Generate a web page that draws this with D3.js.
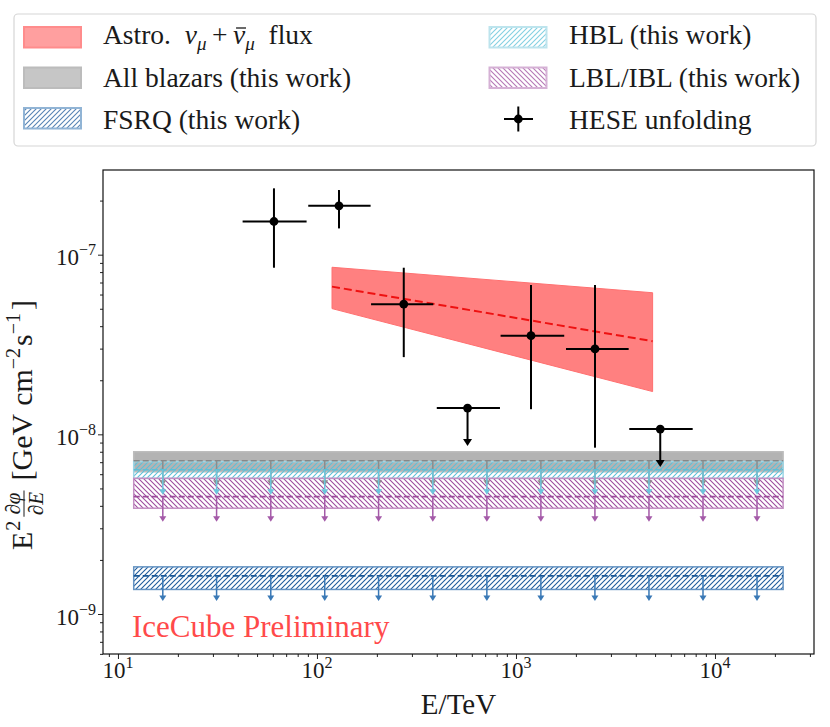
<!DOCTYPE html>
<html>
<head>
<meta charset="utf-8">
<script src="https://cdn.jsdelivr.net/npm/d3@7"></script>
<style>
  body { margin: 0; background: #fff; }
  text { font-family: "Liberation Serif", "DejaVu Serif", serif; fill: #1a1a1a; }
</style>
</head>
<body>
<svg id="chart"></svg>
<script>
// ---- data ----
var xTickValues = [10, 100, 1000, 10000];
var xTickExp = ["1", "2", "3", "4"];
var yTickValues = [1e-9, 1e-8, 1e-7];
var yTickExp = ["\u22129", "\u22128", "\u22127"];

// HESE unfolding points (E in TeV, flux in GeV cm^-2 s^-1)
var heseE      = [60.8, 129, 273, 571, 1190, 2495, 5309];
var heseELow   = [42.3, 90.4, 187, 400, 837, 1784, 3710];
var heseEHigh  = [88.7, 186, 384, 831, 1748, 3684, 7727];
var heseFlux   = [1.53e-7, 1.87e-7, 5.30e-8, 1.40e-8, 3.54e-8, 2.99e-8, 1.07e-8];
var heseFluxLo = [8.46e-8, 1.40e-7, 2.69e-8, null, 1.38e-8, 8.43e-9, null];
var heseFluxHi = [2.34e-7, 2.29e-7, 8.46e-8, null, 6.78e-8, 6.78e-8, null];
var heseUpper  = [false, false, false, true, false, false, true];

// astrophysical numu flux band
var astroE    = [119, 4860];
var astroBest = [6.64e-8, 3.30e-8];
var astroUp   = [8.51e-8, 6.14e-8];
var astroLow  = [5.01e-8, 1.73e-8];

// blazar upper-limit bands
var bandE      = [12.0, 22000];
var bandNames  = ["All blazars (this work)", "HBL (this work)", "LBL/IBL (this work)", "FSRQ (this work)"];
var bandLow    = [6.19e-9, 5.69e-9, 3.88e-9, 1.37e-9];
var bandHigh   = [8.00e-9, 7.05e-9, 5.69e-9, 1.83e-9];
var bandCenter = [7.13e-9, 6.35e-9, 4.50e-9, 1.63e-9];
var limitE     = [16.8, 31.3, 58.6, 109.4, 204, 382, 714, 1334, 2493, 4659, 8706, 16265];

var screen = {width: 830, height: 727};
var plot = {left: 103, right: 814, top: 170, bottom: 654};

var svg = d3.select("#chart")
    .attr("width", screen.width)
    .attr("height", screen.height);

var xScale = d3.scaleLog()
    .domain([8.41, 31450])
    .range([plot.left, plot.right]);

var yScale = d3.scaleLog()
    .domain([5.99e-10, 2.96e-7])
    .range([plot.bottom, plot.top]);

// ---- hatch patterns ----
var defs = svg.append("defs");
var makeHatch = function(id, color, forward)
{
    var s = 5;
    var p = defs.append("pattern")
        .attr("id", id)
        .attr("patternUnits", "userSpaceOnUse")
        .attr("width", s).attr("height", s);
    var d = forward
        ? "M0," + s + " L" + s + ",0 M-1,1 L1,-1 M" + (s - 1) + "," + (s + 1) + " L" + (s + 1) + "," + (s - 1)
        : "M0,0 L" + s + "," + s + " M-1," + (s - 1) + " L1," + (s + 1) + " M" + (s - 1) + ",-1 L" + (s + 1) + ",1";
    p.append("path").attr("d", d)
        .style("stroke", color).style("stroke-width", 1.1).style("fill", "none");
};
makeHatch("hatchFsrq", "#1f5c9c", true);
makeHatch("hatchHbl", "#5cc1d9", true);
makeHatch("hatchLbl", "#9e4c9e", false);

var bandStyle = [
    {fill: "#b3b3b3", edge: "#bdbdbd", line: "#878787", arrow: "#8c8c8c"},
    {fill: "url(#hatchHbl)", edge: "#9fd6e5", line: "#5cbfd7", arrow: "#6cc6dc"},
    {fill: "url(#hatchLbl)", edge: "#c38fc3", line: "#9b4a9b", arrow: "#a45aa8"},
    {fill: "url(#hatchFsrq)", edge: "#6593c2", line: "#1a5796", arrow: "#3a79b6"}
];

// ---- axes ----
var minorX = [];
[1, 10, 100, 1000, 10000].forEach(function(b) {
    for (var k = 2; k <= 9; k++) {
        var v = b * k;
        if (v > xScale.domain()[0] && v < xScale.domain()[1]) minorX.push(v);
    }
});
var minorY = [];
[1e-10, 1e-9, 1e-8, 1e-7].forEach(function(b) {
    for (var k = 2; k <= 9; k++) {
        var v = b * k;
        if (v >= yScale.domain()[0] && v < yScale.domain()[1]) minorY.push(v);
    }
});

var noDomain = function(g) { g.select(".domain").remove(); };
svg.append("g")
    .attr("transform", "translate(0," + plot.bottom + ")")
    .call(d3.axisBottom(xScale).tickValues(xTickValues).tickSize(5).tickFormat(""))
    .call(noDomain);
svg.append("g")
    .attr("transform", "translate(0," + plot.bottom + ")")
    .call(d3.axisBottom(xScale).tickValues(minorX).tickSize(3).tickFormat(""))
    .call(noDomain);
svg.append("g")
    .attr("transform", "translate(" + plot.left + ",0)")
    .call(d3.axisLeft(yScale).tickValues(yTickValues).tickSize(5).tickFormat(""))
    .call(noDomain);
svg.append("g")
    .attr("transform", "translate(" + plot.left + ",0)")
    .call(d3.axisLeft(yScale).tickValues(minorY).tickSize(3).tickFormat(""))
    .call(noDomain);
svg.selectAll(".tick line").style("stroke", "#222").style("stroke-width", 1);

// tick labels with superscripts
xTickValues.forEach(function(v, i) {
    var t = svg.append("text")
        .attr("x", xScale(v))
        .attr("y", 678)
        .attr("text-anchor", "middle")
        .style("font-size", "23px");
    t.append("tspan").text("10");
    t.append("tspan").attr("dy", -10).style("font-size", "16px").text(xTickExp[i]);
});
yTickValues.forEach(function(v, i) {
    var t = svg.append("text")
        .attr("x", 96)
        .attr("y", yScale(v) + 10.5)
        .attr("text-anchor", "end")
        .style("font-size", "23px");
    t.append("tspan").text("10");
    t.append("tspan").attr("dy", -10).style("font-size", "16px").text(yTickExp[i]);
});

// axis titles
svg.append("text")
    .attr("x", (plot.left + plot.right) / 2)
    .attr("y", 714)
    .attr("text-anchor", "middle")
    .style("font-size", "29px")
    .text("E/TeV");

var ylab = svg.append("g");
var piece = function(str, size, dy, italic)
{
    return ylab.append("text")
        .attr("y", dy)
        .style("font-size", size + "px")
        .style("font-style", italic ? "italic" : "normal")
        .text(str);
};
var parts = [
    {el: piece("E", 30, 0), gap: 0},
    {el: piece("2", 20, -12), gap: 1},
    {frac: true, gap: 4},
    {el: piece("[GeV", 30, 0), gap: 10},
    {el: piece("cm", 30, 0), gap: 8},
    {el: piece("\u22122", 20, -12), gap: 0},
    {el: piece("s", 30, 0), gap: 2},
    {el: piece("\u22121", 20, -12), gap: 0},
    {el: piece("]", 30, 0), gap: 3}
];
var fracTop = piece("\u2202\u03c6", 21, -12, true);
var fracBot = piece("\u2202E", 21, 11, true);
var cursor = 0;
parts.forEach(function(p) {
    cursor += p.gap;
    if (p.frac) {
        var w = Math.max(fracTop.node().getComputedTextLength(), fracBot.node().getComputedTextLength()) + 3;
        fracTop.attr("x", cursor + w / 2).attr("text-anchor", "middle");
        fracBot.attr("x", cursor + w / 2).attr("text-anchor", "middle");
        ylab.append("line")
            .attr("x1", cursor).attr("x2", cursor + w)
            .attr("y1", -8).attr("y2", -8)
            .style("stroke", "#1a1a1a").style("stroke-width", 1);
        cursor += w;
    } else {
        p.el.attr("x", cursor);
        cursor += p.el.node().getComputedTextLength();
    }
});
ylab.attr("transform", "translate(32," + (425 + cursor / 2) + ") rotate(-90)");

// ---- blazar bands ----
bandNames.forEach(function(name, i) {
    var st = bandStyle[i];
    svg.append("rect")
        .attr("x", xScale(bandE[0]))
        .attr("width", xScale(bandE[1]) - xScale(bandE[0]))
        .attr("y", yScale(bandHigh[i]))
        .attr("height", yScale(bandLow[i]) - yScale(bandHigh[i]))
        .style("fill", st.fill)
        .style("stroke", st.edge)
        .style("stroke-width", 1.5);
});
bandNames.forEach(function(name, i) {
    var st = bandStyle[i];
    svg.append("line")
        .attr("x1", xScale(bandE[0])).attr("x2", xScale(bandE[1]))
        .attr("y1", yScale(bandCenter[i])).attr("y2", yScale(bandCenter[i]))
        .style("stroke", st.line)
        .style("stroke-width", 1.6)
        .style("stroke-dasharray", "6,3");
    limitE.forEach(function(e) {
        var x0 = xScale(e), y0 = yScale(bandCenter[i]), tip = y0 + 25;
        svg.append("line")
            .attr("x1", x0).attr("x2", x0)
            .attr("y1", y0).attr("y2", tip - 2)
            .style("stroke", st.arrow).style("stroke-width", 1.5);
        svg.append("path")
            .attr("d", "M" + (x0 - 3.5) + "," + (tip - 5.5) + " L" + (x0 + 3.5) + "," + (tip - 5.5) + " L" + x0 + "," + tip + " Z")
            .style("fill", st.arrow);
    });
});

// ---- astrophysical flux band ----
var astroData = astroE.map(function(e, i) { return {e: e, lo: astroLow[i], hi: astroUp[i], best: astroBest[i]}; });
svg.append("path")
    .datum(astroData)
    .attr("d", d3.area()
        .x(function(d) { return xScale(d.e); })
        .y0(function(d) { return yScale(d.lo); })
        .y1(function(d) { return yScale(d.hi); }))
    .style("fill", "#ff8080")
    .style("stroke", "#ff7070")
    .style("stroke-width", 1);
svg.append("path")
    .datum(astroData)
    .attr("d", d3.line()
        .x(function(d) { return xScale(d.e); })
        .y(function(d) { return yScale(d.best); }))
    .style("fill", "none")
    .style("stroke", "#ee1111")
    .style("stroke-width", 2)
    .style("stroke-dasharray", "8,4");

// ---- HESE unfolding ----
heseE.forEach(function(e, i) {
    var cx = xScale(e), cy = yScale(heseFlux[i]);
    svg.append("line")
        .attr("x1", xScale(heseELow[i])).attr("x2", xScale(heseEHigh[i]))
        .attr("y1", cy).attr("y2", cy)
        .style("stroke", "#000").style("stroke-width", 2);
    if (heseUpper[i]) {
        var tip = cy + 38;
        svg.append("line")
            .attr("x1", cx).attr("x2", cx)
            .attr("y1", cy).attr("y2", tip - 4)
            .style("stroke", "#000").style("stroke-width", 2);
        svg.append("path")
            .attr("d", "M" + (cx - 4.5) + "," + (tip - 7) + " L" + (cx + 4.5) + "," + (tip - 7) + " L" + cx + "," + tip + " Z")
            .style("fill", "#000");
    } else {
        svg.append("line")
            .attr("x1", cx).attr("x2", cx)
            .attr("y1", yScale(heseFluxHi[i])).attr("y2", yScale(heseFluxLo[i]))
            .style("stroke", "#000").style("stroke-width", 2);
    }
    svg.append("circle")
        .attr("cx", cx).attr("cy", cy).attr("r", 4.4)
        .style("fill", "#000");
});

// frame
svg.append("rect")
    .attr("x", plot.left).attr("y", plot.top)
    .attr("width", plot.right - plot.left).attr("height", plot.bottom - plot.top)
    .style("fill", "none").style("stroke", "#111").style("stroke-width", 1.2);

// watermark
svg.append("text")
    .attr("x", 132).attr("y", 637)
    .style("font-size", "31px")
    .style("fill", "#ff4a4a")
    .text("IceCube Preliminary");

// ---- legend ----
var legend = svg.append("g");
legend.append("rect")
    .attr("x", 14).attr("y", 14).attr("width", 802).attr("height", 132).attr("rx", 4)
    .style("fill", "#fff").style("stroke", "#d6d6d6").style("stroke-width", 1.2);

var legendRows = [27, 67.5, 108];
var legendBase = [44, 86.5, 128.5];
var legendItems = [
    {col: 0, row: 0, fill: "#ff8080", edge: "#ff6666"},
    {col: 0, row: 1, fill: "#b3b3b3", edge: "#a6a6a6", label: bandNames[0]},
    {col: 0, row: 2, fill: "url(#hatchFsrq)", edge: "#6d9bc8", label: bandNames[3]},
    {col: 1, row: 0, fill: "url(#hatchHbl)", edge: "#a8dbe8", label: bandNames[1]},
    {col: 1, row: 1, fill: "url(#hatchLbl)", edge: "#c897c8", label: bandNames[2]}
];
var colPatch = [24, 489.5];
var colText = [103, 569];

legendItems.forEach(function(it) {
    legend.append("rect")
        .attr("x", colPatch[it.col]).attr("y", legendRows[it.row])
        .attr("width", 57).attr("height", 20.5)
        .style("fill", it.fill).style("stroke", it.edge).style("stroke-width", 2)
        .style("opacity", 0.75);
    if (it.label) {
        legend.append("text")
            .attr("x", colText[it.col]).attr("y", legendBase[it.row])
            .style("font-size", "27.5px")
            .text(it.label);
    }
});

// astro label with math
var astroText = legend.append("text")
    .attr("x", colText[0]).attr("y", legendBase[0])
    .style("font-size", "27.5px");
astroText.append("tspan").text("Astro.\u2002");
astroText.append("tspan").style("font-style", "italic").text("\u03bd");
astroText.append("tspan").attr("dy", 6).style("font-size", "19px").style("font-style", "italic").text("\u03bc");
astroText.append("tspan").attr("dy", -6).text("\u2009+\u2009");
var nuBar = astroText.append("tspan").style("font-style", "italic").text("\u03bd");
astroText.append("tspan").attr("dy", 6).style("font-size", "19px").style("font-style", "italic").text("\u03bc");
astroText.append("tspan").attr("dy", -6).text("\u2002flux");
// bar over the anti-neutrino
var barBox = nuBar.node().getBBox();
legend.append("line")
    .attr("x1", barBox.x + 3).attr("x2", barBox.x + barBox.width)
    .attr("y1", legendBase[0] - 16).attr("y2", legendBase[0] - 16)
    .style("stroke", "#1a1a1a").style("stroke-width", 1.3);

// HESE legend marker
legend.append("line").attr("x1", 504).attr("x2", 533).attr("y1", 119).attr("y2", 119)
    .style("stroke", "#000").style("stroke-width", 2);
legend.append("line").attr("x1", 518.3).attr("x2", 518.3).attr("y1", 106.5).attr("y2", 131.5)
    .style("stroke", "#000").style("stroke-width", 2);
legend.append("circle").attr("cx", 518.3).attr("cy", 119).attr("r", 4.4).style("fill", "#000");
legend.append("text")
    .attr("x", colText[1]).attr("y", legendBase[2])
    .style("font-size", "27.5px")
    .text("HESE unfolding");
</script>
</body>
</html>
